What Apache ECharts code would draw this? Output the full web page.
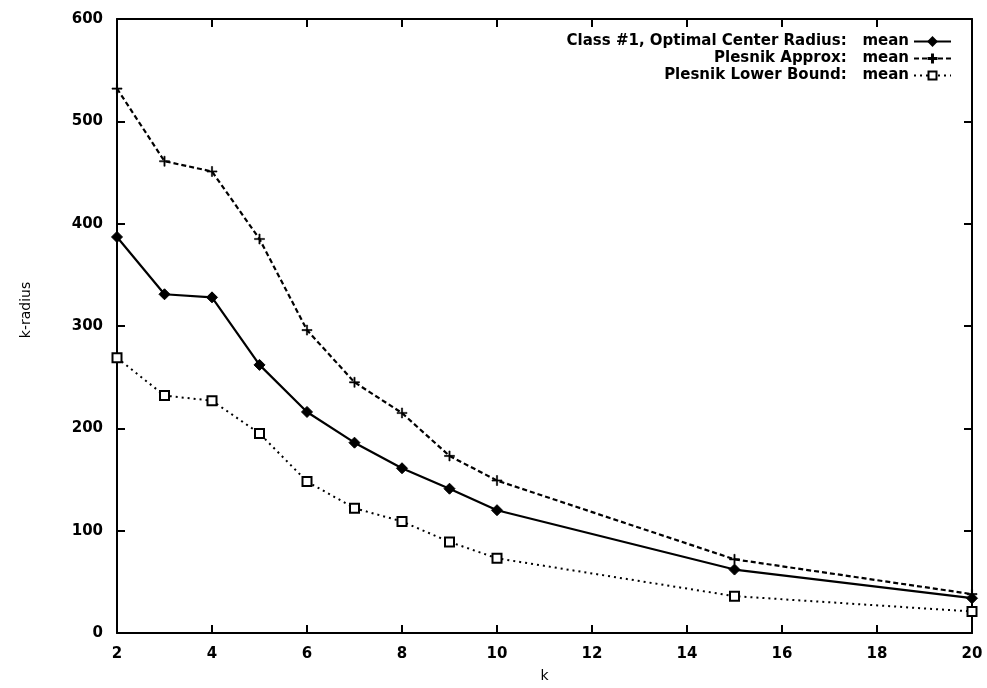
<!DOCTYPE html>
<html>
<head>
<meta charset="utf-8">
<script src="https://cdn.jsdelivr.net/npm/echarts@6/dist/echarts.min.js"></script>
<style>
html,body{margin:0;padding:0;background:#fff;}
#chart{width:987px;height:688px;}
</style>
</head>
<body>
<div id="chart"></div>
<script>
var kValues = [2, 3, 4, 5, 6, 7, 8, 9, 10, 15, 20];
var optimalMean = [387, 331, 328, 262, 216, 186, 161, 141, 120, 62, 34];
var plesnikApprox = [532, 461, 451, 385, 296, 245, 215, 173, 149, 72, 38];
var plesnikLower = [269, 232, 227, 195, 148, 122, 109, 89, 73, 36, 21];
var seriesTitles = [
  'Class #1, Optimal Center Radius:',
  'Plesnik Approx:',
  'Plesnik Lower Bound:'
];
var statName = 'mean';
var yTicks = [0, 100, 200, 300, 400, 500, 600];
var xTicks = [2, 4, 6, 8, 10, 12, 14, 16, 18, 20];
var xTitle = 'k';
var yTitle = 'k-radius';

var seriesNames = seriesTitles.map(function (t) { return t + '   ' + statName; });

function pairs(vals) {
  return kValues.map(function (k, i) { return [k, vals[i]]; });
}

var FONT = '"DejaVu Sans", Verdana, sans-serif';
var chart = echarts.init(document.getElementById('chart'), null, {renderer: 'canvas'});

function axisCommon() {
  return {
    axisLine: {show: true, onZero: false, lineStyle: {color: '#000', width: 2}},
    axisTick: {show: true, inside: true, length: 8, lineStyle: {color: '#000', width: 2}},
    splitLine: {show: false}
  };
}

var plusPath = 'path://M0,4.4H10V5.6H0Z M4.4,0H5.6V10H4.4Z';

function legendFor(name, top) {
  return {
    data: [name],
    right: 35,
    top: top,
    orient: 'horizontal',
    align: 'right',
    itemWidth: 37,
    itemHeight: 10,
    padding: 0,
    textStyle: {fontFamily: FONT, fontSize: 15, fontWeight: 'bold', color: '#000'},
    selectedMode: false
  };
}

var option = {
  animation: false,
  backgroundColor: '#fff',
  grid: {left: 117, right: 15, top: 19, bottom: 49, containLabel: false},
  legend: [
    legendFor(seriesNames[0], 34),
    legendFor(seriesNames[1], 51),
    legendFor(seriesNames[2], 68)
  ],
  xAxis: [
    Object.assign({
      type: 'value', min: 2, max: 20, interval: 2, position: 'bottom',
      name: xTitle, nameLocation: 'middle', nameGap: 36,
      nameTextStyle: {fontFamily: FONT, fontSize: 14, color: '#000'},
      axisLabel: {fontFamily: FONT, fontSize: 15, fontWeight: 'bold', color: '#000', margin: 14,
        formatter: function (v) { return xTicks.indexOf(v) >= 0 ? String(v) : ''; }}
    }, axisCommon()),
    Object.assign({
      type: 'value', min: 2, max: 20, interval: 2, position: 'top',
      axisLabel: {show: false}
    }, axisCommon())
  ],
  yAxis: [
    Object.assign({
      type: 'value', min: 0, max: 600, interval: 100, position: 'left',
      axisLabel: {fontFamily: FONT, fontSize: 15, fontWeight: 'bold', color: '#000', margin: 14,
        formatter: function (v) { return yTicks.indexOf(v) >= 0 ? String(v) : ''; }}
    }, axisCommon()),
    Object.assign({
      type: 'value', min: 0, max: 600, interval: 100, position: 'right',
      axisLabel: {show: false}
    }, axisCommon())
  ],
  graphic: [{
    type: 'text',
    x: 26, y: 310,
    rotation: Math.PI / 2,
    style: {text: yTitle, fontFamily: FONT, fontSize: 14, fill: '#000',
      textAlign: 'center', textVerticalAlign: 'middle'}
  }],
  series: [
    {
      name: seriesNames[0], type: 'line', data: pairs(optimalMean),
      xAxisIndex: 0, yAxisIndex: 0, clip: false,
      symbol: 'diamond', symbolSize: 11,
      lineStyle: {color: '#000', width: 2.2, type: 'solid'},
      itemStyle: {color: '#000', borderColor: '#000', borderWidth: 1}
    },
    {
      name: seriesNames[1], type: 'line', data: pairs(plesnikApprox),
      xAxisIndex: 0, yAxisIndex: 0, clip: false,
      symbol: plusPath, symbolSize: 10,
      lineStyle: {color: '#000', width: 2.2, type: [5, 3]},
      itemStyle: {color: '#000', borderColor: '#000', borderWidth: 0.6}
    },
    {
      name: seriesNames[2], type: 'line', data: pairs(plesnikLower),
      xAxisIndex: 0, yAxisIndex: 0, clip: false,
      symbol: 'rect', symbolSize: 9,
      lineStyle: {color: '#000', width: 2, type: [2, 4]},
      itemStyle: {color: '#fff', borderColor: '#000', borderWidth: 2}
    }
  ]
};
chart.setOption(option);
</script>
</body>
</html>
